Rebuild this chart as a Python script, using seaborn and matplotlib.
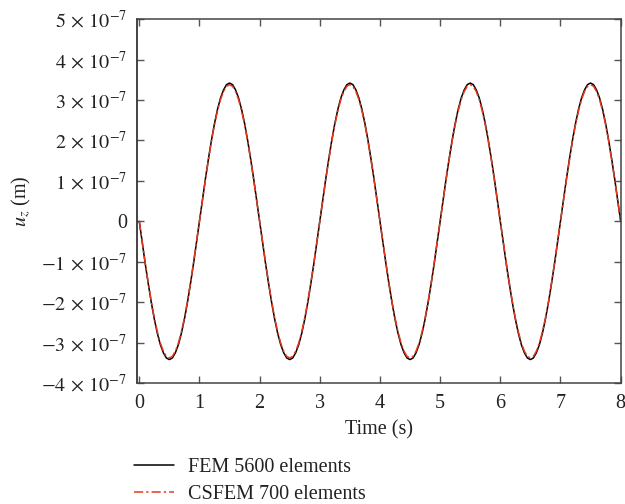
import numpy as np
import pandas as pd
import matplotlib
matplotlib.use('Agg')
import matplotlib.pyplot as plt
import seaborn as sns

# time axis, 0.05 s step
time = np.round(np.arange(0, 8.0001, 0.05), 2)

# displacement values (x 1e-7 m), one line per half cycle
fem = [
    0, -0.53, -1.06, -1.55, -2.01, -2.42, -2.77, -3.05, -3.25, -3.38, -3.42, -3.38, -3.25, -3.05, -2.77, -2.42, -2.01, -1.55, -1.06, -0.53,
    0, 0.53, 1.06, 1.55, 2.01, 2.42, 2.77, 3.05, 3.25, 3.38, 3.42, 3.38, 3.25, 3.05, 2.77, 2.42, 2.01, 1.55, 1.06, 0.53,
    0, -0.53, -1.06, -1.55, -2.01, -2.42, -2.77, -3.05, -3.25, -3.38, -3.42, -3.38, -3.25, -3.05, -2.77, -2.42, -2.01, -1.55, -1.06, -0.53,
    0, 0.53, 1.06, 1.55, 2.01, 2.42, 2.77, 3.05, 3.25, 3.38, 3.42, 3.38, 3.25, 3.05, 2.77, 2.42, 2.01, 1.55, 1.06, 0.53,
    0, -0.53, -1.06, -1.55, -2.01, -2.42, -2.77, -3.05, -3.25, -3.38, -3.42, -3.38, -3.25, -3.05, -2.77, -2.42, -2.01, -1.55, -1.06, -0.53,
    0, 0.53, 1.06, 1.55, 2.01, 2.42, 2.77, 3.05, 3.25, 3.38, 3.42, 3.38, 3.25, 3.05, 2.77, 2.42, 2.01, 1.55, 1.06, 0.53,
    0, -0.53, -1.06, -1.55, -2.01, -2.42, -2.77, -3.05, -3.25, -3.38, -3.42, -3.38, -3.25, -3.05, -2.77, -2.42, -2.01, -1.55, -1.06, -0.53,
    0, 0.53, 1.06, 1.55, 2.01, 2.42, 2.77, 3.05, 3.25, 3.38, 3.42, 3.38, 3.25, 3.05, 2.77, 2.42, 2.01, 1.55, 1.06, 0.53,
    0,
]
csfem = [
    0, -0.52, -1.04, -1.53, -1.99, -2.39, -2.73, -3.01, -3.21, -3.34, -3.38, -3.34, -3.21, -3.01, -2.73, -2.39, -1.99, -1.53, -1.04, -0.52,
    0, 0.52, 1.04, 1.53, 1.99, 2.39, 2.73, 3.01, 3.21, 3.34, 3.38, 3.34, 3.21, 3.01, 2.73, 2.39, 1.99, 1.53, 1.04, 0.52,
    0, -0.52, -1.04, -1.53, -1.99, -2.39, -2.73, -3.01, -3.21, -3.34, -3.38, -3.34, -3.21, -3.01, -2.73, -2.39, -1.99, -1.53, -1.04, -0.52,
    0, 0.52, 1.04, 1.53, 1.99, 2.39, 2.73, 3.01, 3.21, 3.34, 3.38, 3.34, 3.21, 3.01, 2.73, 2.39, 1.99, 1.53, 1.04, 0.52,
    0, -0.52, -1.04, -1.53, -1.99, -2.39, -2.73, -3.01, -3.21, -3.34, -3.38, -3.34, -3.21, -3.01, -2.73, -2.39, -1.99, -1.53, -1.04, -0.52,
    0, 0.52, 1.04, 1.53, 1.99, 2.39, 2.73, 3.01, 3.21, 3.34, 3.38, 3.34, 3.21, 3.01, 2.73, 2.39, 1.99, 1.53, 1.04, 0.52,
    0, -0.52, -1.04, -1.53, -1.99, -2.39, -2.73, -3.01, -3.21, -3.34, -3.38, -3.34, -3.21, -3.01, -2.73, -2.39, -1.99, -1.53, -1.04, -0.52,
    0, 0.52, 1.04, 1.53, 1.99, 2.39, 2.73, 3.01, 3.21, 3.34, 3.38, 3.34, 3.21, 3.01, 2.73, 2.39, 1.99, 1.53, 1.04, 0.52,
    0,
]
series_names = ['FEM 5600 elements', 'CSFEM 700 elements']
xticks = [0, 1, 2, 3, 4, 5, 6, 7, 8]
yticks = [-4, -3, -2, -1, 0, 1, 2, 3, 4, 5]
ytick_labels = [r'$-4\,\times\,10^{-7}$', r'$-3\,\times\,10^{-7}$', r'$-2\,\times\,10^{-7}$', r'$-1\,\times\,10^{-7}$', '0',
                r'$1\,\times\,10^{-7}$', r'$2\,\times\,10^{-7}$', r'$3\,\times\,10^{-7}$', r'$4\,\times\,10^{-7}$', r'$5\,\times\,10^{-7}$']

df = pd.DataFrame({'t': time, series_names[0]: np.array(fem) * 1e-7, series_names[1]: np.array(csfem) * 1e-7})

sns.set_style('ticks')
plt.rcParams['font.family'] = ['Liberation Serif', 'DejaVu Serif']
plt.rcParams['mathtext.fontset'] = 'stix'

fig = plt.figure(figsize=(6.25, 5.04), dpi=100)
ax = fig.add_axes([0.219, 0.240, 0.775, 0.722])

sns.lineplot(data=df, x='t', y=series_names[0], ax=ax, color='black', lw=1.1, label=series_names[0])
sns.lineplot(data=df, x='t', y=series_names[1], ax=ax, color='#e8381c', lw=1.1,
             linestyle=(0, (6, 2, 1.5, 2)), label=series_names[1])

ax.set_xlim(-0.04, 8.01)
ax.set_ylim(-4e-7, 5e-7)
ax.set_xticks(xticks)
ax.set_yticks([v * 1e-7 for v in yticks])
ax.set_yticklabels(ytick_labels)
ax.tick_params(direction='in', top=True, right=True, length=5, width=1, color='#555555',
               labelsize=14.5, labelcolor='#222222')
ax.tick_params(axis='x', pad=8)
ax.tick_params(axis='y', pad=7)
for s in ax.spines.values():
    s.set_color('#444444')
    s.set_linewidth(1.1)
ax.spines['left'].set_color('#111111')
ax.set_xlabel('Time (s)', fontsize=14.5, color='#222222', labelpad=5)
ax.set_ylabel(r'$u_z$ (m)', fontsize=14.5, color='#222222', labelpad=6)

leg = ax.legend(loc='upper left', bbox_to_anchor=(0.214, 0.092), bbox_transform=fig.transFigure,
                frameon=False, fontsize=14.5, handlelength=2.0, handletextpad=0.7,
                labelspacing=0.4, borderpad=0, borderaxespad=0)
for txt in leg.get_texts():
    txt.set_color('#222222')

fig.savefig('out.png', dpi=100)
